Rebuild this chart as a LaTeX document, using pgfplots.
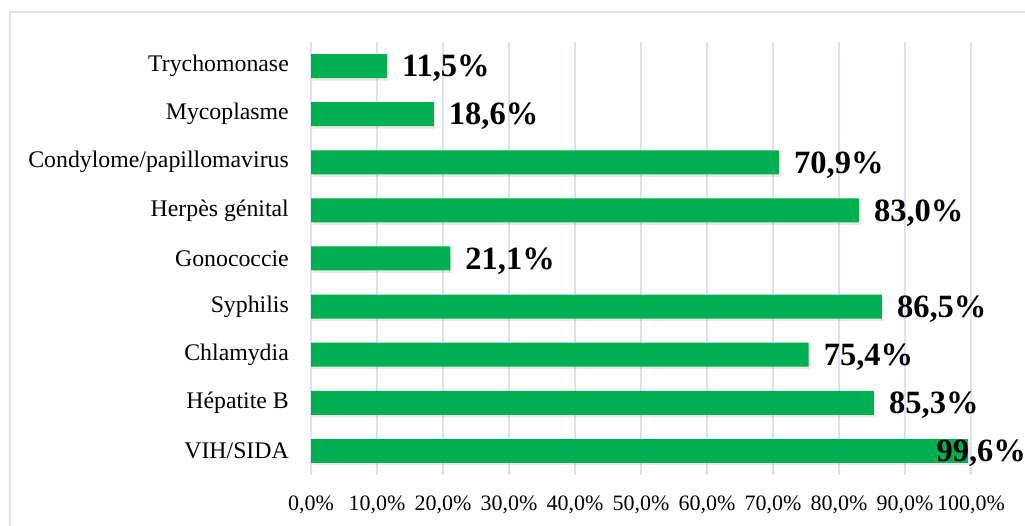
\documentclass[border=0pt]{standalone}
\usepackage{fontspec}
\setmainfont{Liberation Serif}
\usepackage{pgfplots}
\pgfplotsset{compat=1.18}
\usetikzlibrary{shadows}
\definecolor{barg}{HTML}{00B050}
\definecolor{gridc}{HTML}{D9E3F3}
\definecolor{framec}{HTML}{DAE3F3}
\begin{document}
\begin{tikzpicture}[x=1bp,y=1bp]
\useasboundingbox (0,0) rectangle (1025,526);
\draw[framec, line width=2bp] (10,-2) -- (10,514) -- (1027,514);
\begin{axis}[
  at={(311bp,51bp)}, anchor=south west,
  scale only axis, width=660bp, height=433bp,
  xbar, bar width=24bp, bar shift=0pt,
  xmin=0, xmax=100, ymin=-0.5, ymax=8.5,
  axis line style={draw=none},
  major tick length=0pt,
  xmajorgrids, grid style={gridc, line width=1.4bp},
  xtick={0,10,...,100},
  xticklabels={{0,0\%},{10,0\%},{20,0\%},{30,0\%},{40,0\%},{50,0\%},{60,0\%},{70,0\%},{80,0\%},{90,0\%},{100,0\%}},
  ytick={0,...,8},
  yticklabels={VIH/SIDA,Hépatite B,Chlamydia,Syphilis,Gonococcie,Herpès génital,Condylome/papillomavirus,Mycoplasme,Trychomonase},
  xticklabel style={font=\fontsize{22bp}{26bp}\selectfont, inner sep=0pt, anchor=north, yshift=-21bp},
  yticklabel style={font=\fontsize{23.8bp}{28bp}\selectfont, inner sep=0pt, anchor=east, xshift=-22bp},
  point meta=x,
  nodes near coords={\pgfmathprintnumber[fixed,fixed zerofill,precision=1,use comma,assume math mode=true]{\pgfplotspointmeta}\%},
  nodes near coords align={anchor=west},
  every node near coord/.style={font=\bfseries\fontsize{32.5bp}{38bp}\selectfont, inner sep=0pt, yshift=-2.5bp, black, xshift=15bp},
  clip=false,
]
\addplot[fill=barg, draw=none, drop shadow={shadow xshift=1.5bp, shadow yshift=-2.5bp, opacity=0.18}] coordinates {
  (11.5,8) (18.6,7) (70.9,6) (83.0,5) (21.1,4) (86.5,3) (75.4,2) (85.3,1)
};
\addplot[fill=barg, draw=none, drop shadow={shadow xshift=1.5bp, shadow yshift=-2.5bp, opacity=0.18},
  every node near coord/.style={font=\bfseries\fontsize{32.5bp}{38bp}\selectfont, inner sep=0pt, yshift=-2.5bp, black, xshift=-32bp}] coordinates {
  (99.6,0)
};
\end{axis}
\end{tikzpicture}
\end{document}
